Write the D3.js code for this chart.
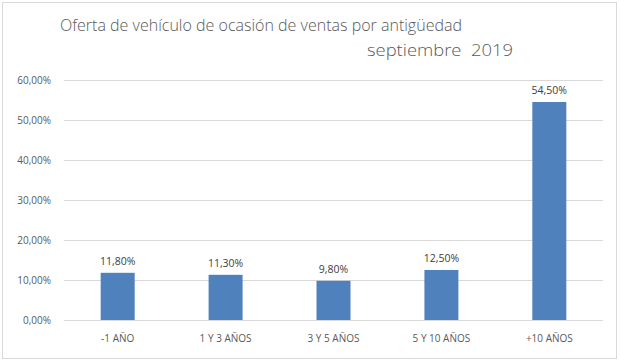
<!DOCTYPE html>
<html>
<head>
<meta charset="utf-8">
<script src="https://cdn.jsdelivr.net/npm/d3@7"></script>
<style>
  body { margin: 0; background: #fff; }
  svg text { font-family: "Open Sans", "Liberation Sans", sans-serif; fill: #595959; }
</style>
</head>
<body>
<div id="chart"></div>
<script>
// data
var categories = ['-1 AÑO', '1 Y 3 AÑOS', '3 Y 5 AÑOS', '5 Y 10 AÑOS', '+10 AÑOS'];
var values = [11.8, 11.3, 9.8, 12.5, 54.5];
var yTicks = [0, 10, 20, 30, 40, 50, 60];
var titleLines = ['Oferta de vehículo de ocasión de ventas por antigüedad', 'septiembre  2019'];

var width = 620, height = 364;
var margin = { top: 80, right: 17, bottom: 44, left: 64 };
var plotW = width - margin.left - margin.right,
    plotH = height - margin.top - margin.bottom;

var fmt = function(v) { return v.toFixed(2).replace('.', ',') + '%'; };

var svg = d3.select('#chart').append('svg')
  .attr('width', width)
  .attr('height', height);

// outer border
svg.append('rect')
  .attr('x', 2.5).attr('y', 2.5)
  .attr('width', 614).attr('height', 356)
  .attr('fill', 'none')
  .attr('stroke', '#d9d9d9');

// title (narrowed to match the condensed original face)
svg.append('text')
  .attr('x', 60).attr('y', 31)
  .attr('textLength', 402)
  .attr('lengthAdjust', 'spacingAndGlyphs')
  .style('font-size', '17px')
  .style('font-weight', 300)
  .text(titleLines[0]);
svg.append('text')
  .attr('x', 367).attr('y', 56)
  .attr('textLength', 146)
  .attr('lengthAdjust', 'spacingAndGlyphs')
  .style('font-size', '17px')
  .style('font-weight', 300)
  .style('white-space', 'pre')
  .text(titleLines[1]);

var g = svg.append('g')
  .attr('transform', 'translate(' + margin.left + ',' + margin.top + ')');

var x = d3.scaleBand()
  .domain(categories)
  .range([0, plotW])
  .paddingInner(0.685)
  .paddingOuter(0.34);

var y = d3.scaleLinear()
  .domain([0, 60])
  .range([plotH, 0]);

// gridlines
g.selectAll('.grid')
  .data(yTicks)
  .enter()
  .append('line')
  .attr('x1', 0).attr('x2', plotW)
  .attr('y1', function(d) { return Math.round(y(d)) + 0.5; })
  .attr('y2', function(d) { return Math.round(y(d)) + 0.5; })
  .attr('stroke', '#d9d9d9');

// y labels
var yAxis = d3.axisLeft(y)
  .tickValues(yTicks)
  .tickSize(0)
  .tickPadding(13)
  .tickFormat(fmt);
g.append('g')
  .call(yAxis)
  .call(function(a) { a.select('.domain').remove(); })
  .selectAll('text')
  .style('font-size', '10px')
  .style('fill', '#595959');

// x labels
var xAxis = d3.axisBottom(x).tickSize(0).tickPadding(15);
g.append('g')
  .attr('transform', 'translate(0,' + plotH + ')')
  .call(xAxis)
  .call(function(a) { a.select('.domain').remove(); })
  .selectAll('text')
  .style('font-size', '10px')
  .style('fill', '#595959');

// bars
g.selectAll('.bar')
  .data(values)
  .enter()
  .append('rect')
  .attr('x', function(d, i) { return x(categories[i]); })
  .attr('y', function(d) { return y(d); })
  .attr('width', x.bandwidth())
  .attr('height', function(d) { return plotH - y(d); })
  .attr('fill', '#4f81bd');

// value labels
g.selectAll('.lbl')
  .data(values)
  .enter()
  .append('text')
  .attr('x', function(d, i) { return x(categories[i]) + x.bandwidth() / 2; })
  .attr('y', function(d) { return y(d) - 8; })
  .attr('text-anchor', 'middle')
  .style('font-size', '10.5px')
  .style('fill', '#404040')
  .text(fmt);
</script>
</body>
</html>
